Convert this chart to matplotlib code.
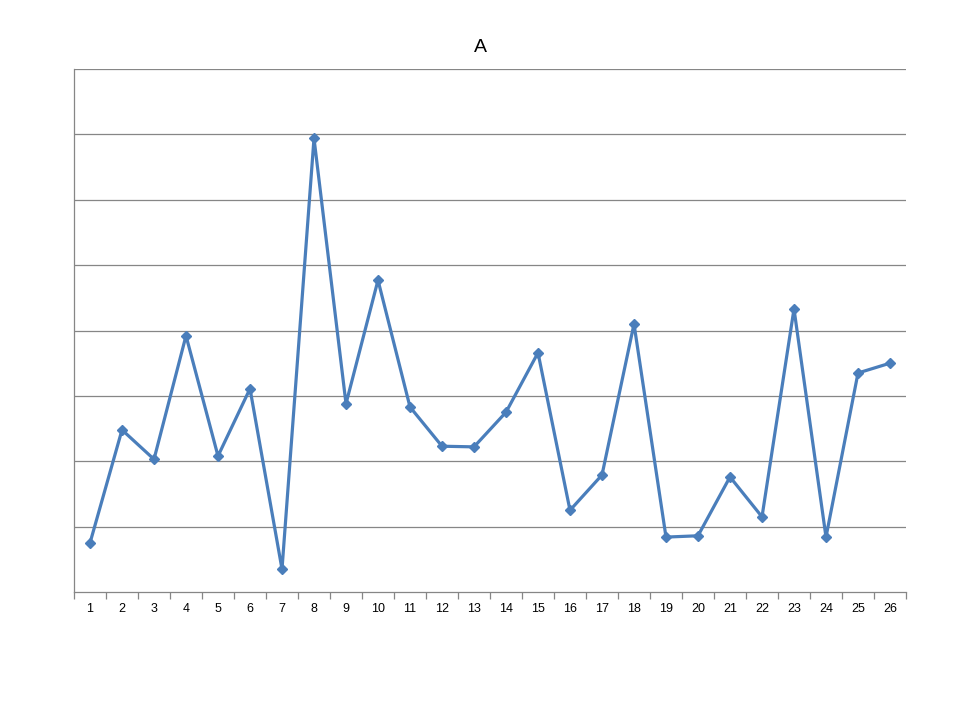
import matplotlib.pyplot as plt
import numpy as np

cats = list(range(1, 27))
vals = [0.75, 2.48, 2.03, 3.92, 2.08, 3.11, 0.35, 6.94, 2.88, 4.77,
        2.83, 2.23, 2.22, 2.75, 3.66, 1.25, 1.79, 4.10, 0.84, 0.86,
        1.76, 1.15, 4.33, 0.84, 3.35, 3.50]

plt.rcParams['font.family'] = ['Liberation Sans', 'DejaVu Sans']

fig = plt.figure(figsize=(9.6, 7.2), dpi=100)
ax = fig.add_axes([74/960, 128/720, 832/960, 523/720])

gray = '#868686'
ax.plot(cats, vals, color='#4A7EBB', lw=2.3, marker='D', ms=5.5,
        markeredgecolor='#4A7EBB', zorder=3)

ax.set_xlim(0.5, 26.5)
ax.set_ylim(0, 8)
ax.set_yticks(np.arange(1, 9))
ax.yaxis.grid(True, color=gray, lw=0.9)
ax.tick_params(axis='y', length=0, labelleft=False)

ax.set_xticks(cats)
ax.set_xticklabels([str(c) for c in cats], fontsize=9)
ax.tick_params(axis='x', which='major', length=0, pad=8)
ax.set_xticks(np.arange(0.5, 27, 1), minor=True)
ax.tick_params(axis='x', which='minor', length=5, color=gray, width=0.9)

for s in ['top', 'right']:
    ax.spines[s].set_visible(False)
for s in ['left', 'bottom']:
    ax.spines[s].set_color(gray)
    ax.spines[s].set_linewidth(0.9)

# title is centred on the figure, not on the axes
fig.text(0.5, 1 - 47/720, 'A', fontsize=14, ha='center', va='center')

fig.savefig('out.png', dpi=100)
